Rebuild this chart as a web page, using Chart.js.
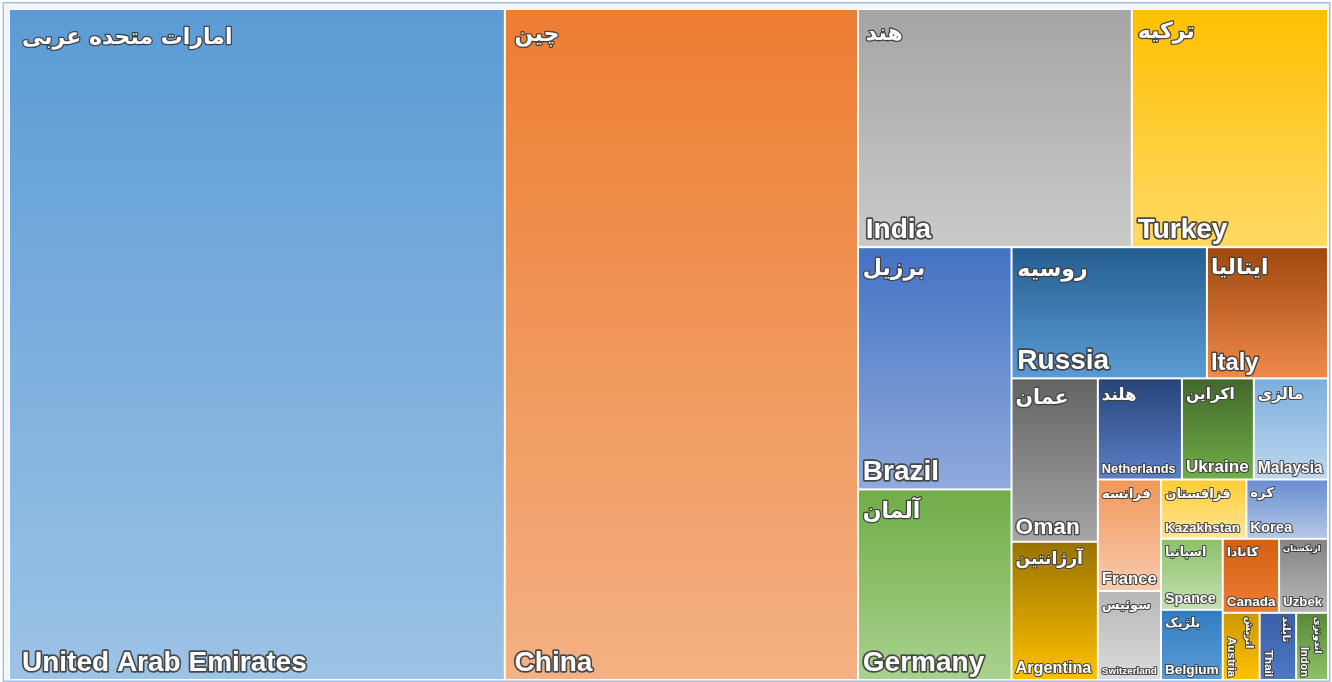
<!DOCTYPE html>
<html>
<head>
<meta charset="utf-8">
<script src="https://cdn.jsdelivr.net/npm/chart.js@4.4.1/dist/chart.umd.min.js"></script>
<style>
  html, body { margin: 0; padding: 0; background: #ffffff; }
  #wrap { width: 1332px; height: 682px; position: relative; }
  canvas { display: block; }
</style>
</head>
<body>
<div id="wrap"><canvas id="c" width="1332" height="682"></canvas></div>
<script>
// ---- data ----
const categories = ['United Arab Emirates', 'China', 'India', 'Turkey', 'Brazil', 'Germany', 'Russia', 'Italy',
  'Oman', 'Argentina', 'Netherlands', 'Ukraine', 'Malaysia', 'France', 'Switzerland', 'Kazakhstan', 'Korea',
  'Spance', 'Belgium', 'Canada', 'Uzbek', 'Austria', 'Thail', 'Indon'];
const persianNames = ['امارات متحده عربی', 'چین', 'هند', 'ترکیه', 'برزیل', 'آلمان', 'روسیه', 'ایتالیا',
  'عمان', 'آرژانتین', 'هلند', 'اکراین', 'مالزی', 'فرانسه', 'سوئیس', 'قزاقستان', 'کره',
  'اسپانیا', 'بلژیک', 'کانادا', 'ازبکستان', 'اتریش', 'تایلند', 'اندونزی'];
const values = [3326.2, 2369.3, 651.9, 467.2, 371.7, 292.5, 256.2, 158.8,
  141.0, 119.3, 85.0, 72.7, 75.0, 70.4, 56.2, 50.6, 48.4,
  43.8, 43.3, 41.7, 36.2, 24.8, 24.5, 21.4];

// ---- styles ----
const gradientTop = ['#5b9bd5', '#ed7d31', '#a5a5a5', '#ffc000', '#4472c4', '#70ad47', '#255e91', '#9e480e',
  '#636363', '#997300', '#264478', '#43682b', '#7cafdd', '#f1975a', '#b7b7b7', '#ffcd33', '#698ed0',
  '#8cc168', '#327dc2', '#d26012', '#848484', '#cc9a00', '#3a5fa6', '#5a8a39'];
const gradientBottom = ['#9dc3e6', '#f4b183', '#cacaca', '#ffd966', '#8faadc', '#a9d18e', '#5b9bd5', '#f08a4b',
  '#a5a5a5', '#ffc000', '#5b80c8', '#70ad47', '#bdd7ee', '#f8cbad', '#dbdbdb', '#ffe699', '#b4c7e7',
  '#c5e0b4', '#5b9bd5', '#ed7d31', '#b7b7b7', '#ffc000', '#4f78c4', '#8cc168'];
const TILE_RATIO = 0.889;   // target aspect used by the squarified tiling
const EN_FONT = '"Liberation Sans", Arial, sans-serif';
const FA_FONT = '"DejaVu Sans", sans-serif';

// squarified tiling (d3-style), values -> rectangles in a W x H space
function squarify(vals, x0, y0, x1, y1, ratio) {
  const out = [];
  const n = vals.length;
  let value = vals.reduce((a, b) => a + b, 0);
  let i0 = 0, i1 = 0;
  while (i0 < n) {
    const dx = x1 - x0, dy = y1 - y0;
    let sum = vals[i1++];
    let minV = sum, maxV = sum;
    const alpha = Math.max(dy / dx, dx / dy) / (value * ratio);
    let beta = sum * sum * alpha;
    let minRatio = Math.max(maxV / beta, beta / minV);
    for (; i1 < n; ++i1) {
      const v = vals[i1];
      sum += v;
      if (v < minV) minV = v;
      if (v > maxV) maxV = v;
      beta = sum * sum * alpha;
      const nr = Math.max(maxV / beta, beta / minV);
      if (nr > minRatio) { sum -= v; break; }
      minRatio = nr;
    }
    if (dx < dy) {
      const yb = y0 + dy * sum / value;
      let x = x0;
      for (let i = i0; i < i1; i++) {
        const w = dx * vals[i] / sum;
        out[i] = { x0: x, y0: y0, x1: x + w, y1: yb };
        x += w;
      }
      y0 = yb;
    } else {
      const xb = x0 + dx * sum / value;
      let y = y0;
      for (let i = i0; i < i1; i++) {
        const h = dy * vals[i] / sum;
        out[i] = { x0: x0, y0: y, x1: xb, y1: y + h };
        y += h;
      }
      x0 = xb;
    }
    value -= sum;
    i0 = i1;
  }
  return out;
}

function outlinedText(ctx, text, x, y, size) {
  ctx.lineJoin = 'round';
  ctx.lineWidth = Math.max(2.2, size * 0.12);
  ctx.strokeStyle = 'rgba(60,60,60,0.9)';
  ctx.strokeText(text, x, y);
  ctx.fillStyle = '#ffffff';
  ctx.fillText(text, x, y);
}

const treemapPlugin = {
  id: 'treemap',
  beforeDraw(chart) {
    const { ctx, width, height } = chart;
    ctx.save();
    ctx.fillStyle = '#ffffff';
    ctx.fillRect(0, 0, width, height);
    ctx.fillStyle = '#f3f5f8';
    ctx.fillRect(4, 3, width - 7, height - 4);
    ctx.strokeStyle = '#a9bfdf';
    ctx.lineWidth = 1.5;
    ctx.strokeRect(3.25, 2.75, width - 5.5, height - 3.5);
    ctx.restore();
  },
  afterDatasetsDraw(chart) {
    const ctx = chart.ctx;
    const xs = chart.scales.x, ys = chart.scales.y, area = chart.chartArea;
    const W = area.right - area.left, H = area.bottom - area.top;
    const rects = squarify(values, 0, 0, W, H, TILE_RATIO);
    ctx.save();
    ctx.fillStyle = '#ffffff';
    ctx.fillRect(area.left, area.top, W, H);
    rects.forEach((r, i) => {
      const left = xs.getPixelForValue(r.x0 / W) + 1;
      const right = xs.getPixelForValue(r.x1 / W) - 1;
      const top = ys.getPixelForValue(r.y0 / H) + 1;
      const bottom = ys.getPixelForValue(r.y1 / H) - 1;
      const w = right - left, h = bottom - top;
      const g = ctx.createLinearGradient(0, top, 0, bottom);
      g.addColorStop(0, gradientTop[i]);
      g.addColorStop(1, gradientBottom[i]);
      ctx.fillStyle = g;
      ctx.fillRect(left, top, w, h);

      // labels
      const rotated = w < 45 && h > w;
      const len = rotated ? h : w;
      const thick = rotated ? w : h;
      const root = Math.sqrt(w * h);
      ctx.save();
      ctx.beginPath();
      ctx.rect(left, top, w, h);
      ctx.clip();
      ctx.font = 'bold 100px ' + EN_FONT;
      const enEm = ctx.measureText(categories[i]).width / 100;
      const es = Math.min(28, 4 + 0.16 * root, 0.9 * len / enEm);
      ctx.font = 'bold 100px ' + FA_FONT;
      const faEm = ctx.measureText(persianNames[i]).width / 100;
      const fs = Math.max(8, Math.min(22, 3 + 0.15 * root, 0.8 * len / faEm));
      const pad = Math.max(3, Math.min(12, len * 0.025));
      if (!rotated) {
        ctx.direction = 'rtl';
        ctx.textAlign = 'left';
        ctx.textBaseline = 'alphabetic';
        ctx.font = 'bold ' + fs + 'px ' + FA_FONT;
        outlinedText(ctx, persianNames[i], left + pad, top + pad * 0.8 + fs * 1.1, fs);
        ctx.direction = 'ltr';
        ctx.font = 'bold ' + es + 'px ' + EN_FONT;
        outlinedText(ctx, categories[i], left + pad, bottom - (3 + es * 0.18), es);
      } else {
        ctx.translate(right, top);
        ctx.rotate(Math.PI / 2);
        ctx.textBaseline = 'alphabetic';
        ctx.direction = 'rtl';
        ctx.textAlign = 'left';
        ctx.font = 'bold ' + fs + 'px ' + FA_FONT;
        outlinedText(ctx, persianNames[i], pad, 2 + fs * 1.05, fs);
        ctx.direction = 'ltr';
        ctx.textAlign = 'right';
        ctx.font = 'bold ' + es + 'px ' + EN_FONT;
        outlinedText(ctx, categories[i], len - 2, thick - 4, es);
      }
      ctx.restore();
    });
    ctx.restore();
  }
};

new Chart(document.getElementById('c'), {
  type: 'scatter',
  data: { datasets: [{ label: 'Trade partners', data: [], pointRadius: 0 }] },
  options: {
    responsive: false,
    animation: false,
    devicePixelRatio: 1,
    layout: { padding: { left: 9, top: 9, right: 4, bottom: 2 } },
    scales: {
      x: { type: 'linear', min: 0, max: 1, display: false },
      y: { type: 'linear', min: 0, max: 1, reverse: true, display: false }
    },
    plugins: { legend: { display: false }, tooltip: { enabled: false } }
  },
  plugins: [treemapPlugin]
});
</script>
</body>
</html>
